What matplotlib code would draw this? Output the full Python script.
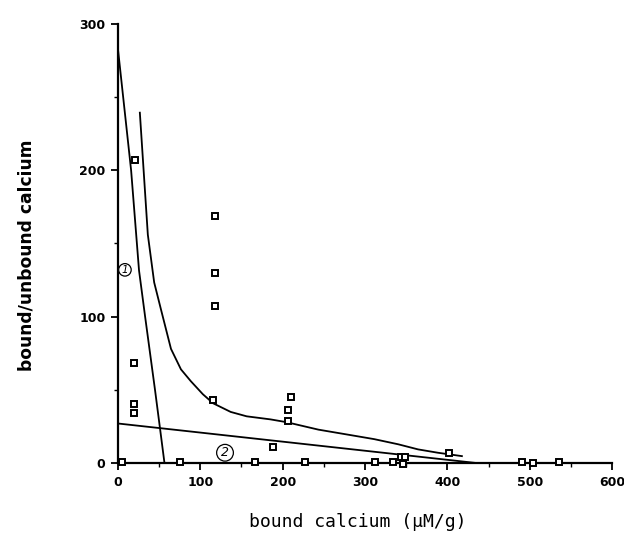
import matplotlib
matplotlib.use("Agg")
import matplotlib.pyplot as plt
from matplotlib.ticker import MultipleLocator

# Data points (bound calcium, bound/unbound ratio)
pts_x = [5, 21, 19, 20, 20, 118, 118, 118, 116, 75, 167, 188, 206, 207, 210,
         227, 312, 334, 346, 344, 349, 402, 490, 504, 536]
pts_y = [1, 207, 68.5, 40, 34, 169, 130, 107, 43, 1, 0.7, 11, 29, 36, 45,
         0.7, 0.7, 0.5, -0.7, 4, 4, 6.5, 1, 0.2, 1]

# Line 1 (steep component)
line1_x = [0, 16, 25.6, 33, 45, 51, 56.5]
line1_y = [283, 200, 131.6, 100, 50, 24, 0]
# Line 2 (shallow component)
line2_x = [0, 435]
line2_y = [27, 0]
# Combined curve
curve_x = [26.6, 36.3, 44.0, 52.3, 64.4, 76.5, 88.5, 103.1, 115.6, 136.9,
           156.3, 185.3, 204.7, 243.4, 282.1, 311.2, 340.2, 364.4, 388.6, 417.6]
curve_y = [239.4, 156, 123.4, 104.8, 78.0, 64.0, 55.9, 47.0, 40.8, 34.9,
           31.9, 29.8, 27.9, 22.8, 19.1, 16.3, 12.8, 9.3, 7.0, 4.7]

xticks = [0, 100, 200, 300, 400, 500, 600]
yticks = [0, 100, 200, 300]

fig = plt.figure(figsize=(6.24, 5.38), dpi=100)
ax = fig.add_axes([0.189, 0.1394, 0.792, 0.816])

ax.plot(line1_x, line1_y, color="black", lw=1.3)
ax.plot(line2_x, line2_y, color="black", lw=1.3)
ax.plot(curve_x, curve_y, color="black", lw=1.3)
ax.plot(pts_x, pts_y, linestyle="none", marker="s", markersize=4.8,
        markerfacecolor="white", markeredgecolor="black", markeredgewidth=1.4,
        clip_on=False, zorder=5)

ax.text(8.5, 132, "1", fontsize=7.5, style="italic", ha="center", va="center",
        bbox=dict(boxstyle="circle,pad=0.12", fc="white", ec="black", lw=0.9))
ax.text(130, 7, "2", fontsize=9, style="italic", ha="center", va="center",
        bbox=dict(boxstyle="circle,pad=0.15", fc="white", ec="black", lw=0.9))

ax.set_xlim(0, 600)
ax.set_ylim(0, 300)
ax.set_xticks(xticks)
ax.set_yticks(yticks)
ax.xaxis.set_minor_locator(MultipleLocator(50))
ax.yaxis.set_minor_locator(MultipleLocator(50))
for lab in ax.get_xticklabels() + ax.get_yticklabels():
    lab.set_fontweight("bold")
    lab.set_fontsize(9)
ax.tick_params(which="major", direction="out", length=5, width=1.3, pad=4)
ax.tick_params(which="minor", direction="out", length=3, width=1.0)

for s in ["top", "right"]:
    ax.spines[s].set_visible(False)
for s in ["left", "bottom"]:
    ax.spines[s].set_linewidth(1.6)

fig.text(0.573, 0.03, "bound calcium (\u00b5M/g)", ha="center", va="center",
         fontsize=13, family="DejaVu Sans Mono")
fig.text(0.042, 0.526, "bound/unbound calcium", ha="center", va="center",
         rotation=90, fontsize=12.3, fontweight="bold")

fig.savefig("out.png", dpi=100)
